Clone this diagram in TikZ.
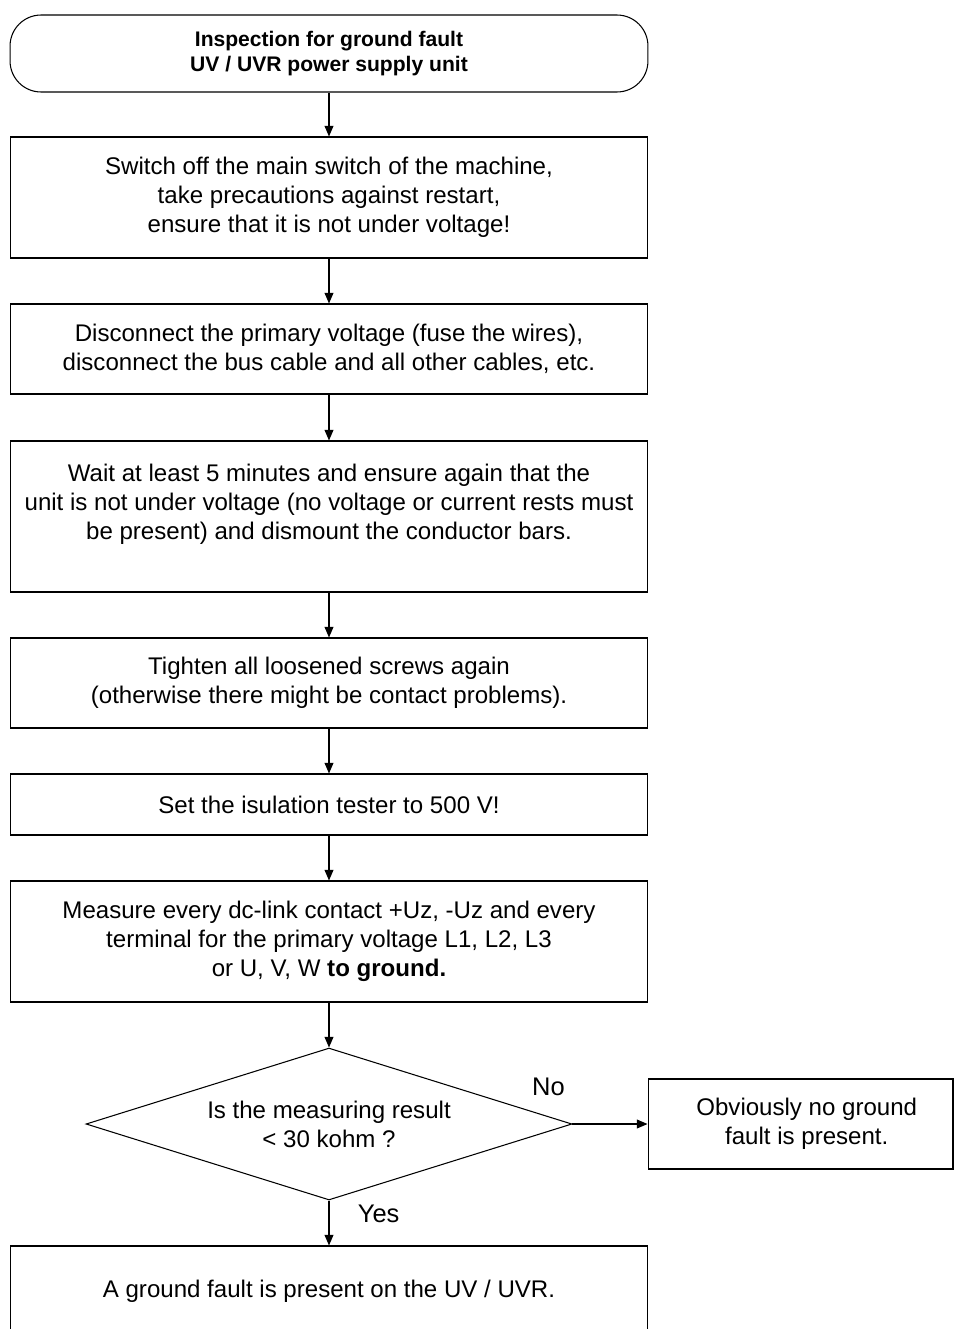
\documentclass[tikz,border=0pt]{standalone}
\usepackage{fontspec}
\setmainfont{Liberation Sans}
\usetikzlibrary{shapes.geometric,arrows.meta}

\begin{document}
\begin{tikzpicture}[x=0.02cm, y=-0.02cm, line width=0.6pt]
			\tikzstyle{step box} = [rectangle, draw=black, fill=white, minimum width=12.76cm, align=center, inner sep=2pt, font=\fontsize{13.7}{16.5}\selectfont]
			\tikzstyle{terminal} = [rectangle, rounded corners=0.62cm, draw=black, minimum width=12.76cm, minimum height=1.54cm, align=center, font=\fontsize{12}{14.6}\selectfont\bfseries]
			\tikzstyle{decision} = [diamond, draw=black, aspect=3.2, minimum width=9.72cm, minimum height=3.04cm, inner sep=0pt, align=center, font=\fontsize{13.7}{16.5}\selectfont]
			\tikzstyle{flow}     = [-{Triangle[length=6pt, width=5pt]}]
			\tikzstyle{answer}   = [font=\fontsize{14.5}{17}\selectfont]

			\useasboundingbox (0,0) rectangle (954,1329);
			\clip (0,0) rectangle (954,1329);

			\node[terminal] (start) at (329,53.5) {Inspection for ground fault\\UV / UVR power supply unit};
			\node[step box, minimum height=2.42cm] (off) at (329,197.5) {Switch off the main switch of the machine,\\take precautions against restart,\\ensure that it is not under voltage!};
			\node[step box, minimum height=1.8cm] (disc) at (329,349) {Disconnect the primary voltage (fuse the wires),\\disconnect the bus cable and all other cables, etc.};
			\node[step box, minimum height=3.02cm] (wait) at (329,516.5) {Wait at least 5 minutes and ensure again that the\\unit is not under voltage (no voltage or current rests must\\be present) and dismount the conductor bars.\\\mbox{}};
			\node[step box, minimum height=1.8cm] (tight) at (329,683) {Tighten all loosened screws again\\(otherwise there might be contact problems).};
			\node[step box, minimum height=1.22cm] (tester) at (329,804.5) {Set the isulation tester to 500 V!};
			\node[step box, minimum height=2.42cm] (measure) at (329,941.5) {Measure every dc-link contact +Uz, -Uz and every\\terminal for the primary voltage L1, L2, L3\\or U, V, W \textbf{to ground.}};
			\node[decision] (check) at (329,1124) {Is the measuring result\\< 30 kohm ?};
			\node[step box, minimum width=6.1cm, minimum height=1.8cm] (nofault) at (800.5,1124) {\hspace*{0.25cm}Obviously no ground\\\hspace*{0.25cm}fault is present.};
			\node[step box, minimum height=1.8cm] (fault) at (329,1291) {A ground fault is present on the UV / UVR.};

			\foreach \from/\to in {start/off, off/disc, disc/wait, wait/tight, tight/tester, tester/measure, measure/check}
				\draw[flow] (\from.south) -- (\to.north);

			\draw[flow] (check.east) -- node[answer, above, pos=0.0, xshift=-0.48cm, yshift=0.43cm] (no) {No} (nofault.west);
			\draw[flow] (check.south) -- node[answer, right, pos=0.3, xshift=0.45cm] (yes) {Yes} (fault.north);
		\end{tikzpicture}
\end{document}
